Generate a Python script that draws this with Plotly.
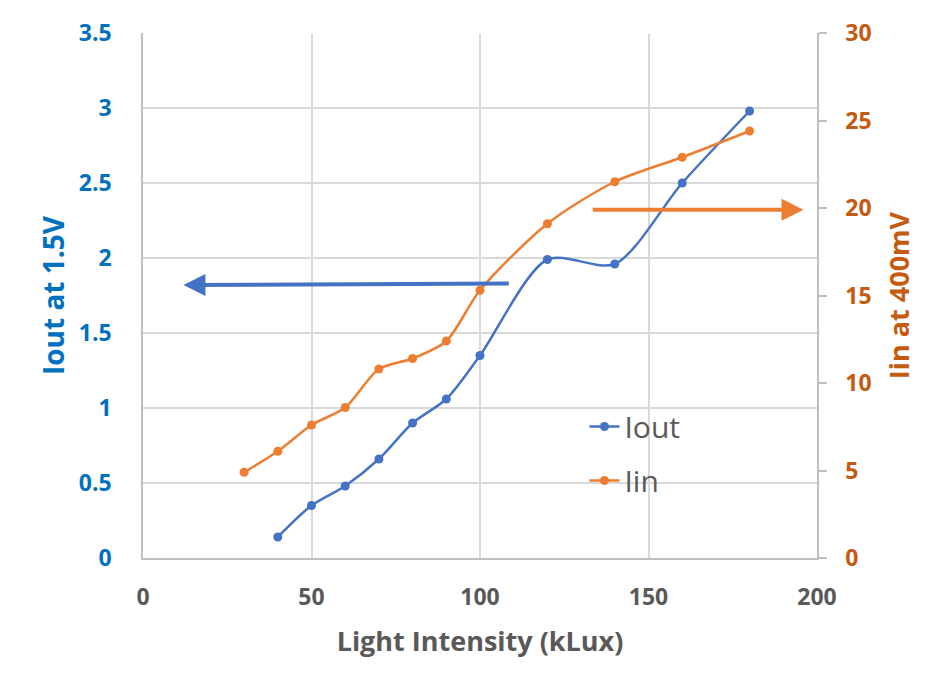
import plotly.graph_objects as go

# light intensity (kLux)
iout_x = [40, 50, 60, 70, 80, 90, 100, 120, 140, 160, 180]
iout_y = [0.14, 0.35, 0.48, 0.66, 0.90, 1.06, 1.35, 1.99, 1.96, 2.50, 2.98]

iin_x = [30, 40, 50, 60, 70, 80, 90, 100, 120, 140, 160, 180]
iin_y = [4.9, 6.1, 7.6, 8.6, 10.8, 11.4, 12.4, 15.3, 19.1, 21.5, 22.9, 24.4]

left_ticks = [0, 0.5, 1, 1.5, 2, 2.5, 3, 3.5]
left_labels = ['0', '0.5', '1', '1.5', '2', '2.5', '3', '3.5']
right_ticks = [0, 5, 10, 15, 20, 25, 30]
x_ticks = [0, 50, 100, 150, 200]

blue = '#4472C4'
orange = '#ED7D31'
font_name = 'Open Sans'

fig = go.Figure()
fig.add_trace(go.Scatter(x=iout_x, y=iout_y, name='Iout', mode='lines+markers',
                         line=dict(color=blue, width=2.5, shape='spline', smoothing=0.8),
                         marker=dict(size=9, color=blue),
                         legendgroup='a'))
fig.add_trace(go.Scatter(x=iin_x, y=iin_y, name='Iin', mode='lines+markers', yaxis='y2',
                         line=dict(color=orange, width=2.5, shape='spline', smoothing=0.8),
                         marker=dict(size=9, color=orange),
                         legendgroup='b'))

# arrows pointing at the axis each curve belongs to
fig.add_annotation(x=12, y=1.82, ax=109, ay=1.83, xref='x', yref='y', axref='x', ayref='y',
                   text='', showarrow=True, arrowhead=2, arrowsize=1.1, arrowwidth=4,
                   arrowcolor=blue)
fig.add_annotation(x=196, y=19.9, ax=133, ay=19.9, xref='x', yref='y2', axref='x', ayref='y2',
                   text='', showarrow=True, arrowhead=2, arrowsize=1.1, arrowwidth=4,
                   arrowcolor=orange)

# hide the top gridline
fig.add_shape(type='line', xref='paper', yref='y', x0=0.001, x1=0.999, y0=3.5, y1=3.5,
              line=dict(color='white', width=2), layer='above')

# page body has an 8px margin, so the figure is 8px smaller than the window
fig.update_layout(
    width=925, height=674,
    margin=dict(l=135, r=116, t=25, b=124),
    paper_bgcolor='white', plot_bgcolor='white',
    font=dict(family=font_name),
    showlegend=True,
    legend=dict(x=0.655, y=0.30, xanchor='left', yanchor='top',
                font=dict(size=30, color='#595959'), tracegroupgap=12,
                bgcolor='rgba(0,0,0,0)'),
    xaxis=dict(range=[0, 200], tickvals=x_ticks, showgrid=True, gridcolor='#D9D9D9', gridwidth=1.5,
               showline=True, linecolor='#BFBFBF', linewidth=1.5, zeroline=False,
               ticks='outside', ticklen=18, tickcolor='rgba(0,0,0,0)',
               tickfont=dict(size=23, color='#595959', family=font_name, weight='bold'),
               title=dict(text='Light Intensity (kLux)', standoff=21,
                          font=dict(size=27, color='#595959', family=font_name, weight='bold'))),
    yaxis=dict(range=[0, 3.5], tickvals=left_ticks, ticktext=left_labels,
               showgrid=True, gridcolor='#D9D9D9', gridwidth=1.5,
               showline=True, linecolor='#BFBFBF', linewidth=1.5, zeroline=False,
               ticks='outside', ticklen=25, tickcolor='rgba(0,0,0,0)',
               tickfont=dict(size=23, color='#0070C0', family=font_name, weight='bold'),
               title=dict(text='Iout at 1.5V', standoff=6,
                          font=dict(size=28, color='#0070C0', family=font_name, weight='bold')),
               automargin=False),
    yaxis2=dict(range=[0, 30], tickvals=right_ticks, overlaying='y', side='right',
                showgrid=False, showline=True, linecolor='#BFBFBF', linewidth=1.5, zeroline=False,
                ticks='outside', ticklen=8, tickcolor='#BFBFBF', tickwidth=1.5,
                ticklabelstandoff=14,
                tickfont=dict(size=23, color='#C55A11', family=font_name, weight='bold'),
                title=dict(text='Iin at 400mV', standoff=19,
                           font=dict(size=27, color='#C55A11', family=font_name, weight='bold')),
                automargin=False),
)

fig.write_html('out.html')
